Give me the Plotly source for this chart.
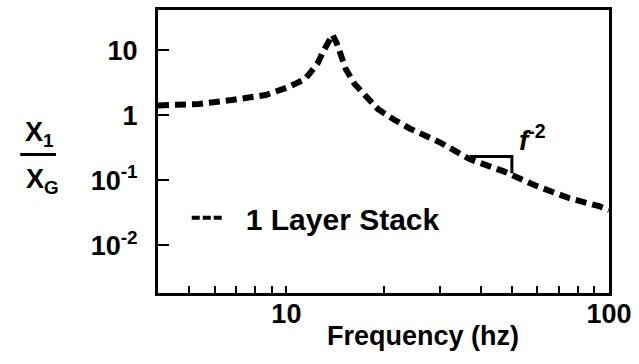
import numpy as np
import plotly.graph_objects as go

# Data
freq = [4.0, 4.25, 5.36, 6.77, 8.62, 10.1, 11.4, 11.9, 12.5, 13.0, 13.5, 13.9,
        14.3, 14.65, 15.3, 16.3, 17.5, 19.2, 21.6, 24.2, 27.4, 30.0, 37.1, 47.2,
        59.6, 75.4, 93.2, 100.0]
ratio = [1.41, 1.43, 1.49, 1.71, 2.04, 2.69, 3.56, 4.6, 6.3, 9.5, 14.0, 17.2,
         13.0, 9.2, 5.05, 2.99, 2.04, 1.25, 0.85, 0.62, 0.468, 0.38, 0.21, 0.137,
         0.082, 0.053, 0.040, 0.035]

slope_x = [37.1, 50.0, 50.0]
slope_y = [0.232, 0.232, 0.128]

x_tickvals = [5, 6, 7, 8, 9, 10, 20, 30, 40, 50, 60, 70, 80, 90, 100]
x_ticktext = ["", "", "", "", "", "10", "", "", "", "", "", "", "", "", "100"]
y_tickvals = [0.01, 0.1, 1, 10]
y_ticktext = ["10<sup>-2</sup>", "10<sup>-1</sup>", "1", "10"]

series_name = "1 Layer Stack"

FONT = "Liberation Sans"
W, H = 639, 364
ml, mr, mt, mb = 158, 26, 7, 71
pw, ph = W - ml - mr, H - mt - mb


def px(xp):
    return (xp - ml) / pw


def py(yp):
    return (H - mb - yp) / ph


fig = go.Figure()
fig.add_trace(go.Scatter(
    x=freq, y=ratio, mode="lines", showlegend=False,
    line=dict(color="black", width=6, dash="11px,6px"),
))
# legend-only entry
fig.add_trace(go.Scatter(
    x=[None], y=[None], mode="lines", name=series_name,
    line=dict(color="black", width=4, dash="8px,3px,8px,3px,8px,40px"),
))
# slope marker
fig.add_trace(go.Scatter(
    x=slope_x, y=slope_y, mode="lines", showlegend=False,
    line=dict(color="black", width=3),
))

fig.update_layout(
    width=W, height=H,
    margin=dict(l=ml, r=mr, t=mt, b=mb, pad=0),
    paper_bgcolor="white", plot_bgcolor="white",
    font=dict(family=FONT, size=27, color="black", weight="bold"),
    showlegend=True,
    legend=dict(x=px(187), y=py(217), xanchor="left", yanchor="middle",
                bgcolor="rgba(0,0,0,0)", borderwidth=0, itemwidth=49,
                font=dict(family=FONT, size=30, color="black", weight="bold")),
)
fig.update_xaxes(
    type="log", range=[np.log10(4), 2],
    showline=True, linewidth=3, linecolor="black", mirror=True,
    showgrid=False, zeroline=False,
    ticks="inside", ticklen=7, tickwidth=2, tickcolor="black",
    tickvals=x_tickvals, ticktext=x_ticktext,
    tickfont=dict(family=FONT, size=27, color="black", weight="bold"),
    ticklabelstandoff=-5,
)
fig.update_yaxes(
    type="log", range=[-2.731, 1.616],
    showline=True, linewidth=3, linecolor="black", mirror=True,
    showgrid=False, zeroline=False,
    ticks="inside", ticklen=11, tickwidth=2, tickcolor="black",
    tickvals=y_tickvals, ticktext=y_ticktext,
    tickfont=dict(family=FONT, size=27, color="black", weight="bold"),
    ticklabelstandoff=12,
)

# axis title
fig.add_annotation(text="Frequency (hz)", xref="paper", yref="paper",
                   x=px(425), y=py(336), xanchor="center", yanchor="middle",
                   showarrow=False,
                   font=dict(family=FONT, size=27, color="black", weight="bold"))
# y label as a fraction
fig.add_annotation(text="X<sub>1</sub>", xref="paper", yref="paper",
                   x=px(38), y=py(132), xanchor="center", yanchor="middle",
                   showarrow=False,
                   font=dict(family=FONT, size=27, color="black", weight="bold"))
fig.add_annotation(text="X<sub>G</sub>", xref="paper", yref="paper",
                   x=px(41), y=py(180), xanchor="center", yanchor="middle",
                   showarrow=False,
                   font=dict(family=FONT, size=27, color="black", weight="bold"))
fig.add_shape(type="line", xref="paper", yref="paper",
              x0=px(19), x1=px(55), y0=py(153), y1=py(153),
              line=dict(color="black", width=3))
# slope label
fig.add_annotation(text="<i>f</i><sup>-2</sup>", xref="x", yref="y",
                   x=np.log10(58), y=np.log10(0.45), xanchor="center", yanchor="middle",
                   showarrow=False,
                   font=dict(family=FONT, size=28, color="black", weight="bold"))

fig.write_html("out.html")
